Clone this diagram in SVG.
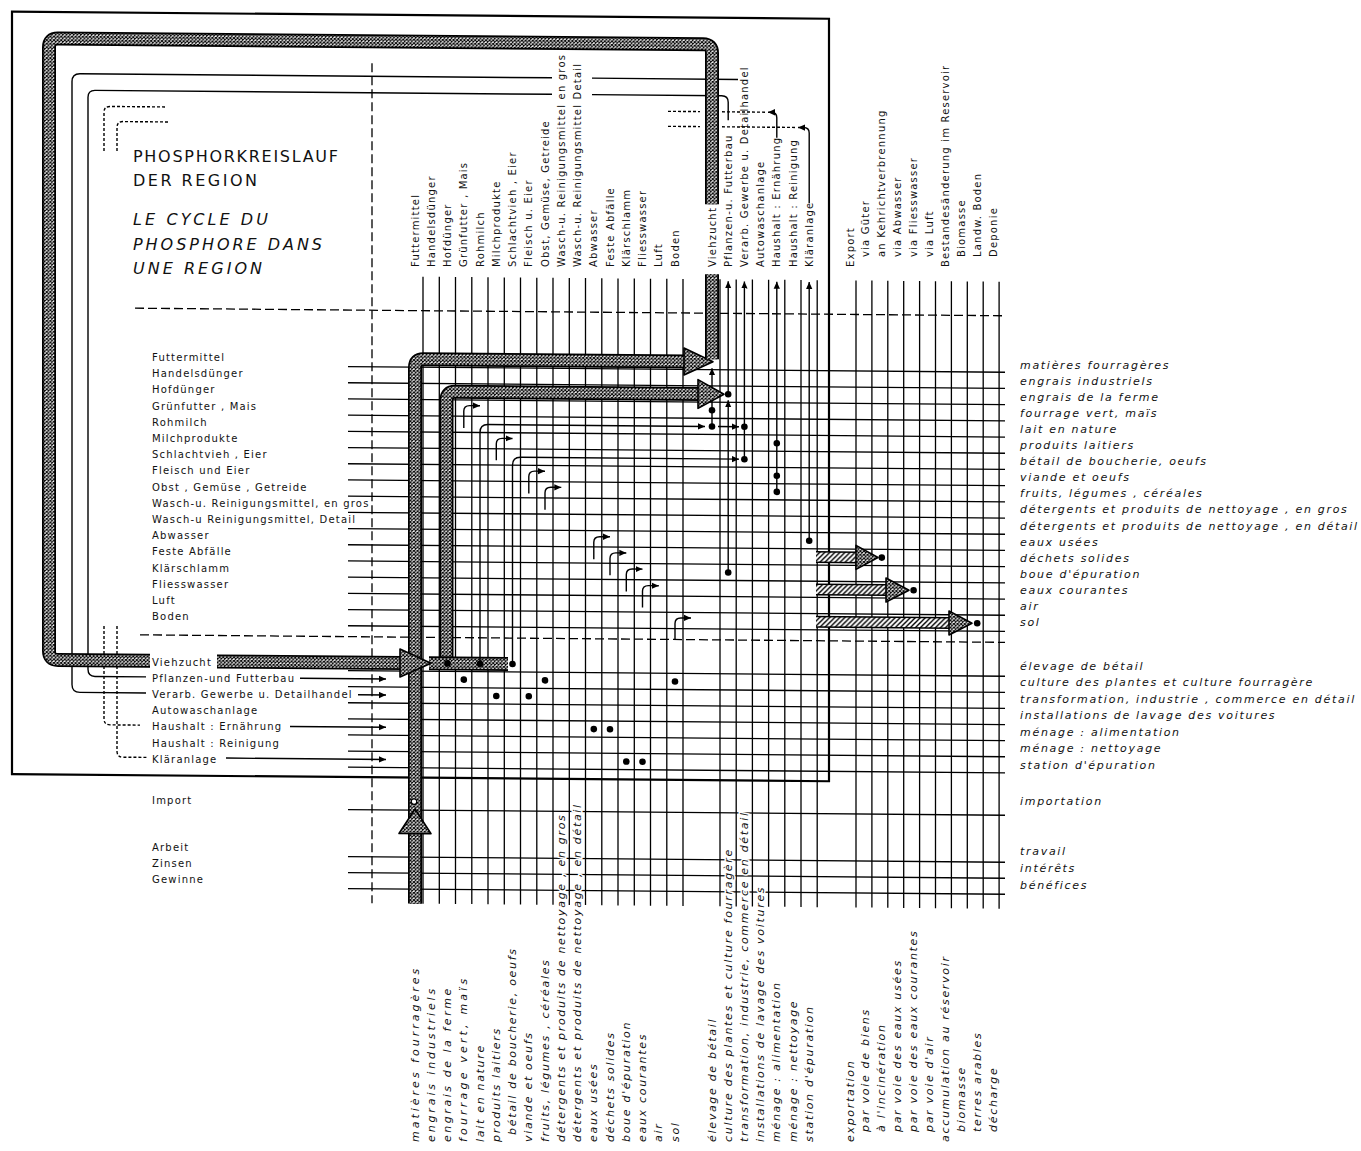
<svg xmlns="http://www.w3.org/2000/svg" width="1361" height="1151" viewBox="0 0 1361 1151">
<defs>
<pattern id="xh" width="3.6" height="3.6" patternUnits="userSpaceOnUse"><rect width="3.6" height="3.6" fill="#fff"/><path d="M0,0L3.6,3.6M3.6,0L0,3.6" stroke="#000" stroke-width="1.1"/></pattern>
<pattern id="dh" width="5" height="5" patternUnits="userSpaceOnUse"><rect width="5" height="5" fill="#fff"/><path d="M-1,6L6,-1M-1,1L1,-1M4,6L6,4" stroke="#000" stroke-width="1.4"/></pattern>
<marker id="ar" viewBox="0 0 10 10" refX="10" refY="5" markerWidth="7" markerHeight="7" orient="auto" markerUnits="userSpaceOnUse"><path d="M0,0.5L10,5L0,9.5z" fill="#000"/></marker>
<path id="bA" d="M415,900V364Q415,355.5 423.5,355.5H688"/>
<path id="bB" d="M446.5,659.5V396.4Q446.5,387.9 455,387.9H700"/>
<path id="bC" d="M150,659.5H58Q49,659.5 49,650.5V47Q49,38 58,38H703Q712,38 712,47V198M712,268V353"/>
<path id="bD" d="M217,659.5H402"/>
<path id="bE" d="M429,659.5H508"/>
<path id="x1" d="M816,549.9H858"/>
<path id="x2" d="M816,582.3H888"/>
<path id="x3" d="M816,614.7H951"/>
</defs>
<style>
.de{font-family:"DejaVu Sans",sans-serif;font-size:10px;letter-spacing:1.2px;fill:#111}
.fr{font-family:"DejaVu Sans",sans-serif;font-style:italic;font-size:11px;letter-spacing:1.7px;fill:#111}
.ti{font-family:"DejaVu Sans",sans-serif;font-size:16px;fill:#111}
.it{font-style:italic}
.halo{stroke:#fff;stroke-width:3px;paint-order:stroke}
.grid{fill:none;stroke:#000;stroke-width:1.3}
.dash{fill:none;stroke:#000;stroke-width:1.3;stroke-dasharray:9 4}
.thin{fill:none;stroke:#000;stroke-width:1.4}
.dot{fill:none;stroke:#000;stroke-width:1.4;stroke-dasharray:3 2}
.bo{fill:none;stroke:#000;stroke-width:14}
.bi{fill:none;stroke:url(#xh);stroke-width:10.5}
.eo{fill:none;stroke:#000;stroke-width:12}
.ei{fill:none;stroke:url(#dh);stroke-width:9}
.ah{fill:url(#xh);stroke:#000;stroke-width:1.6;stroke-linejoin:round}
.dots circle{fill:#000}
</style>
<rect width="1361" height="1151" fill="#fff"/>

<g id="title">
<text class="ti" x="133" y="161.5" textLength="205" lengthAdjust="spacing">PHOSPHORKREISLAUF</text>
<text class="ti" x="133" y="186" textLength="124" lengthAdjust="spacing">DER  REGION</text>
<text class="ti it" x="133" y="225" textLength="135" lengthAdjust="spacing">LE CYCLE DU</text>
<text class="ti it" x="133" y="250" textLength="189" lengthAdjust="spacing">PHOSPHORE  DANS</text>
<text class="ti it" x="133" y="274" textLength="129" lengthAdjust="spacing">UNE  REGION</text>
</g>

<g transform="skewY(0.5)">
<g id="frame">
<rect x="12" y="11.5" width="817" height="762.5" fill="none" stroke="#000" stroke-width="2.2"/>
</g>
<g id="grid">
<path class="grid" d="M348,363.5H1005M348,379.7H1005M348,395.9H1005M348,412.1H1005M348,428.3H1005M348,444.5H1005M348,460.7H1005M348,476.9H1005M348,493.1H1005M348,509.3H1005M348,525.5H1005M348,541.7H1005M348,557.9H1005M348,574.1H1005M348,590.3H1005M348,606.5H1005M348,622.7H1005M348,667.5H1005M348,683.6H1005M348,699.7H1005M348,715.8H1005M348,731.9H1005M348,748H1005M348,764.1H1005M348,806.5H1005M348,853.5H1005M348,869.5H1005M348,885.5H1005"/>
<path class="grid" d="M423,273V900M439.3,273V900M455.5,273V900M471.8,273V900M488,273V900M504.3,273V900M520.5,273V900M536.8,273V900M553,273V900M569.3,273V900M585.5,273V900M601.8,273V900M618,273V900M634.3,273V900M650.5,273V900M666.8,273V900M683,273V900M720,273V900M736.2,273V900M752.4,273V900M768.6,273V900M784.8,273V900M801,273V900M817.2,273V900M856,273V900M871.9,273V900M887.8,273V900M903.7,273V900M919.6,273V900M935.5,273V900M951.4,273V900M967.3,273V900M983.2,273V900M999.1,273V900"/>
<path class="dash" d="M135,307H1005M140,633.6H1005"/>
<path class="dash" stroke-dasharray="10 3" d="M372,60V900"/>
</g>

<g id="connectors">
<path class="thin" d="M738,73H592M552,73H80Q72,73 72,81V684Q72,691.7 80,691.7H146"/>
<path class="thin" d="M728.2,114V96Q728.2,89.5 721.7,89.5H592M552,89.5H95Q88,89.5 88,96.5V668.6Q88,675.6 95,675.6H146"/>
<path class="dot" d="M165,105.5H110Q104,105.5 104,111.5V150M104,625V717.9Q104,723.9 110,723.9H140M668,105.5H700M722,105.5H767"/>
<path class="dot" d="M168,120.5H123Q117,120.5 117,126.5V150M117,625V750.1Q117,756.1 123,756.1H147M668,120.5H700M722,120.5H797"/>
<path class="thin" marker-end="url(#ar)" d="M776.8,131V111Q776.8,105.5 771,105.5H768"/>
<path class="thin" marker-end="url(#ar)" d="M809.2,196V126Q809.2,120.5 803.5,120.5H798"/>
<path class="thin" marker-end="url(#ar)" d="M300,675.6H386"/>
<path class="thin" marker-end="url(#ar)" d="M358,691.7H386"/>
<path class="thin" marker-end="url(#ar)" d="M290,723.9H386"/>
<path class="thin" marker-end="url(#ar)" d="M226,756.1H386"/>

<use href="#bA" class="bo"/><use href="#bA" class="bi"/>
<polygon class="ah" points="684,342 713,355.5 684,369"/>
<polygon class="ah" points="415,805.4 399,830 431,830"/>
<circle cx="414" cy="798" r="2.8" fill="#fff" stroke="#000" stroke-width="1.3"/>
<use href="#bB" class="bo"/><use href="#bB" class="bi"/>
<use href="#bE" class="bo"/><use href="#bE" class="bi"/>
<use href="#bD" class="bo"/><use href="#bD" class="bi"/>
<polygon class="ah" points="400,645.5 431,659.5 400,673.5"/>

<path class="thin" marker-end="url(#ar)" d="M712,420.3V362"/>
<path class="thin" marker-end="url(#ar)" d="M728.2,566.1V394"/>
<path class="thin" marker-end="url(#ar)" d="M728.2,388V275"/>
<path class="thin" marker-end="url(#ar)" d="M744.4,452.7V275"/>
<path class="thin" marker-end="url(#ar)" d="M776.8,485.1V275"/>
<path class="thin" marker-end="url(#ar)" d="M809.2,533.7V275"/>
<polygon class="ah" points="698,373.5 724,387.9 698,402.3"/>
<use href="#bC" class="bo"/><use href="#bC" class="bi"/>

<path class="thin" marker-end="url(#ar)" d="M480,659.5V428.3Q480,420.3 488,420.3H705"/>
<path class="thin" marker-end="url(#ar)" d="M718,420.3H739"/>
<path class="thin" marker-end="url(#ar)" d="M512.5,659.5V460.7Q512.5,452.7 520.5,452.7H739"/>

<g id="hooks">
<path class="thin" marker-end="url(#ar)" d="M463.8,424V407Q463.8,401.5 469.8,401.5H480"/>
<path class="thin" marker-end="url(#ar)" d="M496.3,456V439.5Q496.3,434 502.3,434H512.5"/>
<path class="thin" marker-end="url(#ar)" d="M528.8,489V472Q528.8,466.5 534.8,466.5H545"/>
<path class="thin" marker-end="url(#ar)" d="M545,505V488Q545,482.5 551,482.5H561.3"/>
<path class="thin" marker-end="url(#ar)" d="M593.8,554V537Q593.8,531.5 599.8,531.5H610"/>
<path class="thin" marker-end="url(#ar)" d="M610,570V553Q610,547.5 616,547.5H626.3"/>
<path class="thin" marker-end="url(#ar)" d="M626.3,586V569Q626.3,563.5 632.3,563.5H642.5"/>
<path class="thin" marker-end="url(#ar)" d="M642.5,602V585.5Q642.5,580 648.5,580H658.8"/>
<path class="thin" marker-end="url(#ar)" d="M675,634V617.5Q675,612 681,612H691"/>
</g>

<use href="#x1" class="eo"/><use href="#x1" class="ei"/>
<polygon class="ah" points="856,537.9 878,549.9 856,561.9"/>
<use href="#x2" class="eo"/><use href="#x2" class="ei"/>
<polygon class="ah" points="886,570.3 909,582.3 886,594.3"/>
<use href="#x3" class="eo"/><use href="#x3" class="ei"/>
<polygon class="ah" points="949,602.7 972,614.7 949,626.7"/>

<g class="dots">
<circle cx="447.5" cy="659.5" r="3.3"/><circle cx="480" cy="659.5" r="3.3"/><circle cx="512.5" cy="659.5" r="3.3"/>
<circle cx="463.8" cy="675.6" r="3.3"/><circle cx="545" cy="675.6" r="3.3"/><circle cx="675" cy="675.6" r="3.3"/>
<circle cx="496.3" cy="691.7" r="3.3"/><circle cx="528.8" cy="691.7" r="3.3"/>
<circle cx="593.8" cy="723.9" r="3.3"/><circle cx="610" cy="723.9" r="3.3"/>
<circle cx="626.3" cy="756.1" r="3.3"/><circle cx="642.5" cy="756.1" r="3.3"/>
<circle cx="728.2" cy="387.9" r="3.3"/><circle cx="712" cy="404.1" r="3.3"/><circle cx="712" cy="420.3" r="3.3"/>
<circle cx="744.4" cy="420.3" r="3.3"/><circle cx="744.4" cy="452.7" r="3.3"/>
<circle cx="776.8" cy="436.5" r="3.3"/><circle cx="776.8" cy="468.9" r="3.3"/><circle cx="776.8" cy="485.1" r="3.3"/>
<circle cx="809.2" cy="533.7" r="3.3"/><circle cx="728.2" cy="566.1" r="3.3"/>
<circle cx="881.8" cy="549.9" r="3.3"/><circle cx="913.6" cy="582.3" r="3.3"/><circle cx="977.2" cy="614.7" r="3.3"/>
</g>
</g>
</g>

<g id="row-labels-de" class="de">
<text x="152" y="361">Futtermittel</text>
<text x="152" y="377.2">Handelsdünger</text>
<text x="152" y="393.4">Hofdünger</text>
<text x="152" y="409.6">Grünfutter , Mais</text>
<text x="152" y="425.8">Rohmilch</text>
<text x="152" y="442">Milchprodukte</text>
<text x="152" y="458.2">Schlachtvieh , Eier</text>
<text x="152" y="474.4">Fleisch und  Eier</text>
<text x="152" y="490.6">Obst , Gemüse , Getreide</text>
<text x="152" y="506.8">Wasch-u. Reinigungsmittel, en gros</text>
<text x="152" y="523">Wasch-u Reinigungsmittel, Detail</text>
<text x="152" y="539.2">Abwasser</text>
<text x="152" y="555.4">Feste  Abfälle</text>
<text x="152" y="571.6">Klärschlamm</text>
<text x="152" y="587.8">Fliesswasser</text>
<text x="152" y="604">Luft</text>
<text x="152" y="620.2">Boden</text>
<text x="152" y="665.5">Viehzucht</text>
<text x="152" y="681.7">Pflanzen-und Futterbau</text>
<text x="152" y="697.9">Verarb. Gewerbe u. Detailhandel</text>
<text x="152" y="714.1">Autowaschanlage</text>
<text x="152" y="730.3">Haushalt : Ernährung</text>
<text x="152" y="746.5">Haushalt : Reinigung</text>
<text x="152" y="762.7">Kläranlage</text>
<text x="152" y="803.5">Import</text>
<text x="152" y="850.5">Arbeit</text>
<text x="152" y="866.7">Zinsen</text>
<text x="152" y="882.9">Gewinne</text>
</g>

<g id="row-labels-fr" class="fr">
<text x="1020" y="368.5">matières fourragères</text>
<text x="1020" y="384.6">engrais industriels</text>
<text x="1020" y="400.7">engrais de la ferme</text>
<text x="1020" y="416.8">fourrage vert, maïs</text>
<text x="1020" y="432.9">lait en nature</text>
<text x="1020" y="449">produits laitiers</text>
<text x="1020" y="465.1">bétail de boucherie, oeufs</text>
<text x="1020" y="481.2">viande et oeufs</text>
<text x="1020" y="497.3">fruits, légumes , céréales</text>
<text x="1020" y="513.4">détergents et produits de nettoyage , en gros</text>
<text x="1020" y="529.5">détergents et produits de nettoyage , en détail</text>
<text x="1020" y="545.6">eaux usées</text>
<text x="1020" y="561.7">déchets solides</text>
<text x="1020" y="577.8">boue d'épuration</text>
<text x="1020" y="593.9">eaux courantes</text>
<text x="1020" y="610">air</text>
<text x="1020" y="626.1">sol</text>
<text x="1020" y="669.5">élevage de bétail</text>
<text x="1020" y="686">culture des plantes et culture fourragère</text>
<text x="1020" y="702.5">transformation, industrie , commerce en détail</text>
<text x="1020" y="719">installations de lavage des voitures</text>
<text x="1020" y="735.5">ménage : alimentation</text>
<text x="1020" y="752">ménage : nettoyage</text>
<text x="1020" y="768.5">station d'épuration</text>
<text x="1020" y="804.5">importation</text>
<text x="1020" y="854.5">travail</text>
<text x="1020" y="871.5">intérêts</text>
<text x="1020" y="888.5">bénéfices</text>
</g>

<g id="col-labels-de" class="de">
<text transform="translate(418.5,267) rotate(-90)">Futtermittel</text>
<text transform="translate(434.8,267) rotate(-90)">Handelsdünger</text>
<text transform="translate(451,267) rotate(-90)">Hofdünger</text>
<text transform="translate(467.3,267) rotate(-90)">Grünfutter , Mais</text>
<text transform="translate(483.5,267) rotate(-90)">Rohmilch</text>
<text transform="translate(499.8,267) rotate(-90)">Milchprodukte</text>
<text transform="translate(516,267) rotate(-90)">Schlachtvieh , Eier</text>
<text transform="translate(532.3,267) rotate(-90)">Fleisch u. Eier</text>
<text transform="translate(548.5,267) rotate(-90)">Obst, Gemüse, Getreide</text>
<text transform="translate(564.8,267) rotate(-90)">Wasch-u. Reinigungsmittel en gros</text>
<text transform="translate(581,267) rotate(-90)">Wasch-u. Reinigungsmittel  Detail</text>
<text transform="translate(597.3,267) rotate(-90)">Abwasser</text>
<text transform="translate(613.5,267) rotate(-90)">Feste  Abfälle</text>
<text transform="translate(629.8,267) rotate(-90)">Klärschlamm</text>
<text transform="translate(646,267) rotate(-90)">Fliesswasser</text>
<text transform="translate(662.3,267) rotate(-90)">Luft</text>
<text transform="translate(678.5,267) rotate(-90)">Boden</text>
<text transform="translate(715.5,267) rotate(-90)">Viehzucht</text>
<text transform="translate(731.7,267) rotate(-90)">Pflanzen-u. Futterbau</text>
<text transform="translate(747.9,267) rotate(-90)">Verarb. Gewerbe u. Detailhandel</text>
<text transform="translate(764.1,267) rotate(-90)">Autowaschanlage</text>
<text transform="translate(780.3,267) rotate(-90)">Haushalt : Ernährung</text>
<text transform="translate(796.5,267) rotate(-90)">Haushalt : Reinigung</text>
<text transform="translate(812.7,267) rotate(-90)">Kläranlage</text>
<text transform="translate(853.5,267) rotate(-90)">Export</text>
<text transform="translate(869.4,257) rotate(-90)">via  Güter</text>
<text transform="translate(885.3,257) rotate(-90)">an  Kehrichtverbrennung</text>
<text transform="translate(901.2,257) rotate(-90)">via  Abwasser</text>
<text transform="translate(917.1,257) rotate(-90)">via  Fliesswasser</text>
<text transform="translate(933,257) rotate(-90)">via  Luft</text>
<text transform="translate(948.9,267) rotate(-90)">Bestandesänderung  im  Reservoir</text>
<text transform="translate(964.8,257) rotate(-90)">Biomasse</text>
<text transform="translate(980.7,257) rotate(-90)">Landw.  Boden</text>
<text transform="translate(996.6,257) rotate(-90)">Deponie</text>
</g>

<g id="col-labels-fr" class="fr halo">
<text transform="translate(418.5,1142) rotate(-90)" textLength="175" lengthAdjust="spacing">matières fourragères</text>
<text transform="translate(434.8,1142) rotate(-90)" textLength="155" lengthAdjust="spacing">engrais industriels</text>
<text transform="translate(451,1142) rotate(-90)" textLength="155" lengthAdjust="spacing">engrais de la ferme</text>
<text transform="translate(467.3,1142) rotate(-90)" textLength="165" lengthAdjust="spacing">fourrage vert, maïs</text>
<text transform="translate(483.5,1142) rotate(-90)">lait en nature</text>
<text transform="translate(499.8,1142) rotate(-90)">produits laitiers</text>
<text transform="translate(516,1135) rotate(-90)">bétail de boucherie, oeufs</text>
<text transform="translate(532.3,1142) rotate(-90)">viande et oeufs</text>
<text transform="translate(548.5,1142) rotate(-90)">fruits, légumes , céréales</text>
<text transform="translate(564.8,1142) rotate(-90)">détergents et produits de nettoyage , en gros</text>
<text transform="translate(581,1142) rotate(-90)">détergents et produits de nettoyage , en détail</text>
<text transform="translate(597.3,1142) rotate(-90)">eaux usées</text>
<text transform="translate(613.5,1142) rotate(-90)">déchets solides</text>
<text transform="translate(629.8,1142) rotate(-90)">boue d'épuration</text>
<text transform="translate(646,1142) rotate(-90)">eaux courantes</text>
<text transform="translate(662.3,1142) rotate(-90)">air</text>
<text transform="translate(678.5,1142) rotate(-90)">sol</text>
<text transform="translate(715.5,1142) rotate(-90)">élevage de bétail</text>
<text transform="translate(731.7,1142) rotate(-90)">culture des plantes et culture fourragère</text>
<text transform="translate(747.9,1142) rotate(-90)">transformation, industrie, commerce en détail</text>
<text transform="translate(764.1,1142) rotate(-90)">installations de lavage des voitures</text>
<text transform="translate(780.3,1142) rotate(-90)">ménage : alimentation</text>
<text transform="translate(796.5,1142) rotate(-90)">ménage : nettoyage</text>
<text transform="translate(812.7,1142) rotate(-90)">station d'épuration</text>
<text transform="translate(853.5,1142) rotate(-90)">exportation</text>
<text transform="translate(869.4,1132) rotate(-90)">par voie de biens</text>
<text transform="translate(885.3,1132) rotate(-90)">à l'incinération</text>
<text transform="translate(901.2,1132) rotate(-90)">par voie des eaux usées</text>
<text transform="translate(917.1,1132) rotate(-90)">par voie des eaux courantes</text>
<text transform="translate(933,1132) rotate(-90)">par voie d'air</text>
<text transform="translate(948.9,1142) rotate(-90)">accumulation au réservoir</text>
<text transform="translate(964.8,1132) rotate(-90)">biomasse</text>
<text transform="translate(980.7,1132) rotate(-90)">terres arables</text>
<text transform="translate(996.6,1132) rotate(-90)">décharge</text>
</g>
</svg>
